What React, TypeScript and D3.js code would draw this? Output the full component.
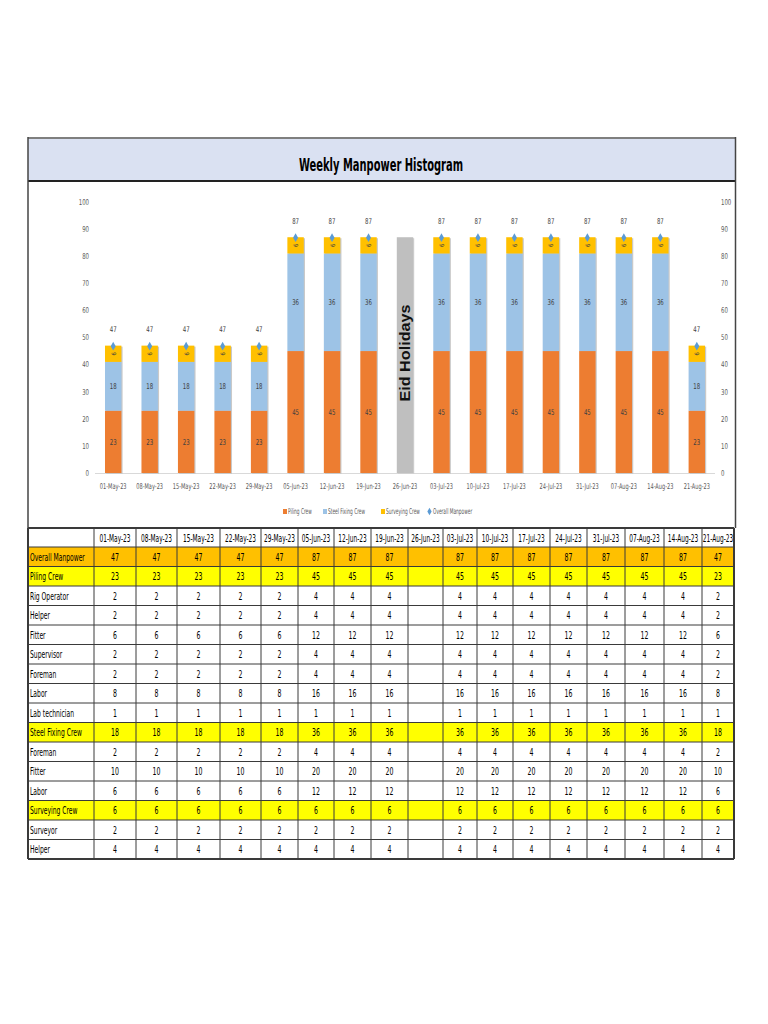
import React from 'react';
import * as d3 from 'd3';

const dates = ['01-May-23','08-May-23','15-May-23','22-May-23','29-May-23','05-Jun-23','12-Jun-23','19-Jun-23','26-Jun-23','03-Jul-23','10-Jul-23','17-Jul-23','24-Jul-23','31-Jul-23','07-Aug-23','14-Aug-23','21-Aug-23'];
const pilingCrew = [23,23,23,23,23,45,45,45,null,45,45,45,45,45,45,45,23];
const steelFixingCrew = [18,18,18,18,18,36,36,36,null,36,36,36,36,36,36,36,18];
const surveyingCrew = [6,6,6,6,6,6,6,6,null,6,6,6,6,6,6,6,6];
const overallManpower = [47,47,47,47,47,87,87,87,null,87,87,87,87,87,87,87,47];
const holidayDate = '26-Jun-23';
const holidayLabel = 'Eid Holidays';
const holidayBarValue = 87;

const rigOperator = [2,2,2,2,2,4,4,4,null,4,4,4,4,4,4,4,2];
const pilingHelper = [2,2,2,2,2,4,4,4,null,4,4,4,4,4,4,4,2];
const pilingFitter = [6,6,6,6,6,12,12,12,null,12,12,12,12,12,12,12,6];
const supervisor = [2,2,2,2,2,4,4,4,null,4,4,4,4,4,4,4,2];
const pilingForeman = [2,2,2,2,2,4,4,4,null,4,4,4,4,4,4,4,2];
const pilingLabor = [8,8,8,8,8,16,16,16,null,16,16,16,16,16,16,16,8];
const labTechnician = [1,1,1,1,1,1,1,1,null,1,1,1,1,1,1,1,1];
const steelForeman = [2,2,2,2,2,4,4,4,null,4,4,4,4,4,4,4,2];
const steelFitter = [10,10,10,10,10,20,20,20,null,20,20,20,20,20,20,20,10];
const steelLabor = [6,6,6,6,6,12,12,12,null,12,12,12,12,12,12,12,6];
const surveyor = [2,2,2,2,2,2,2,2,null,2,2,2,2,2,2,2,2];
const surveyHelper = [4,4,4,4,4,4,4,4,null,4,4,4,4,4,4,4,4];

const yTicks = [0,10,20,30,40,50,60,70,80,90,100];
const seriesNames = ['Piling Crew','Steel Fixing Crew','Surveying Crew','Overall Manpower'];
const title = 'Weekly Manpower Histogram';

const COLORS = { piling: '#ED7D31', steel: '#9DC3E6', survey: '#FFC000', overall: '#5B9BD5', holiday: '#BFBFBF' };
const NARROW = "'Liberation Sans Narrow', 'DejaVu Sans Condensed', 'Liberation Sans', sans-serif";

const tableRows = [
  { label: 'Overall Manpower', values: overallManpower, fill: '#FFC000' },
  { label: 'Piling Crew', values: pilingCrew, fill: '#FFFF00' },
  { label: 'Rig Operator', values: rigOperator, fill: '#FFFFFF' },
  { label: 'Helper', values: pilingHelper, fill: '#FFFFFF' },
  { label: 'Fitter', values: pilingFitter, fill: '#FFFFFF' },
  { label: 'Supervisor', values: supervisor, fill: '#FFFFFF' },
  { label: 'Foreman', values: pilingForeman, fill: '#FFFFFF' },
  { label: 'Labor', values: pilingLabor, fill: '#FFFFFF' },
  { label: 'Lab technician', values: labTechnician, fill: '#FFFFFF' },
  { label: 'Steel Fixing Crew', values: steelFixingCrew, fill: '#FFFF00' },
  { label: 'Foreman', values: steelForeman, fill: '#FFFFFF' },
  { label: 'Fitter', values: steelFitter, fill: '#FFFFFF' },
  { label: 'Labor', values: steelLabor, fill: '#FFFFFF' },
  { label: 'Surveying Crew', values: surveyingCrew, fill: '#FFFF00' },
  { label: 'Surveyor', values: surveyor, fill: '#FFFFFF' },
  { label: 'Helper', values: surveyHelper, fill: '#FFFFFF' },
];

// layout
const colEdges = [28, 94, 136, 177, 220, 261, 298, 334, 371, 408, 443, 477, 513, 550, 587, 625, 664, 702, 734];
const TABLE_TOP = 528;
const HEADER_H = 19;
const ROW_H = 19.5;

function T({ x, y, children, size = 10, anchor = 'middle', sx = 0.8, weight = 'normal', fill = '#000', rotate = 0, family = NARROW }: any) {
  return (
    <text transform={`translate(${x},${y}) rotate(${rotate}) scale(${sx},1)`} textAnchor={anchor}
      dominantBaseline="central" fontSize={size} fontWeight={weight} fill={fill} fontFamily={family}>
      {children}
    </text>
  );
}

export default function App() {
  const x = d3.scaleBand<string>().domain(dates).range([95, 715]).paddingInner(0.55).paddingOuter(0.274);
  const y = d3.scaleLinear().domain([0, 100]).range([473, 202]);
  const bw = x.bandwidth();

  const stacks = dates.map((d, i) => {
    const segs: any[] = [];
    let base = 0;
    const parts = [
      { v: pilingCrew[i], c: COLORS.piling, k: 'p' },
      { v: steelFixingCrew[i], c: COLORS.steel, k: 's' },
      { v: surveyingCrew[i], c: COLORS.survey, k: 'v' },
    ];
    parts.forEach((p) => {
      if (p.v == null) return;
      segs.push({ ...p, y0: base, y1: base + p.v });
      base += p.v;
    });
    return { d, i, segs };
  });

  const tableBottom = TABLE_TOP + HEADER_H + ROW_H * tableRows.length;

  return (
    <svg width={768} height={1024} style={{ position: 'absolute', left: 0, top: 0 }}>
      <rect x={0} y={0} width={768} height={1024} fill="#fff" />
      {/* title band */}
      <rect x={28} y={138} width={708} height={43} fill="#DAE1F2" />
      <line x1={28} x2={736} y1={138} y2={138} stroke="#7f7f7f" strokeWidth={2} />
      <line x1={28} x2={736} y1={181} y2={181} stroke="#222" strokeWidth={2} />
      <line x1={28} x2={28} y1={137} y2={528} stroke="#444" strokeWidth={1.5} />
      <line x1={735.5} x2={735.5} y1={137} y2={528} stroke="#444" strokeWidth={1.5} />
      <T x={381} y={165} size={17} weight="bold" sx={0.65}>{title}</T>

      {/* y axes labels */}
      {yTicks.map((t) => (
        <g key={t}>
          <T x={89} y={y(t)} size={8} anchor="end" sx={0.75} fill="#595959">{t}</T>
          <T x={721} y={y(t)} size={8} anchor="start" sx={0.75} fill="#595959">{t}</T>
        </g>
      ))}
      {/* x axis */}
      <line x1={95} x2={715} y1={y(0) + 0.5} y2={y(0) + 0.5} stroke="#d9d9d9" strokeWidth={1} />
      {dates.map((d) => (
        <T key={d} x={x(d)! + bw / 2} y={487} size={8} sx={0.7} fill="#595959">{d}</T>
      ))}

      {/* holiday bar */}
      <rect x={x(holidayDate)! + 1} y={y(holidayBarValue) + 1} width={bw} height={y(0) - y(holidayBarValue)} fill="#d0d0d0" />
      <rect x={x(holidayDate)!} y={y(holidayBarValue)} width={bw} height={y(0) - y(holidayBarValue)} fill={COLORS.holiday} />
      <T x={x(holidayDate)! + bw / 2} y={353} size={15} weight="bold" rotate={-90} sx={1.08}
        family="'Liberation Sans', Arial, sans-serif" fill="#111">{holidayLabel}</T>

      {/* stacked bars */}
      {stacks.map((s) => (
        <g key={s.d}>
          {s.segs.length > 0 && (
            <rect x={x(s.d)! + 1.2} y={y(s.segs[s.segs.length - 1].y1) + 1} width={bw} height={y(0) - y(s.segs[s.segs.length - 1].y1)} fill="#c9c9c9" />
          )}
          {s.segs.map((g: any) => (
            <rect key={g.k} x={x(s.d)!} y={y(g.y1)} width={bw} height={y(g.y0) - y(g.y1)} fill={g.c} />
          ))}
          {s.segs.map((g: any) => (
            g.k === 'v'
              ? <T key={'l' + g.k} x={x(s.d)! + bw / 2} y={y((g.y0 + g.y1) / 2)} size={6} rotate={-90} sx={1} fill="#404040">{g.v}</T>
              : <T key={'l' + g.k} x={x(s.d)! + bw / 2} y={y((g.y0 + g.y1) / 2)} size={8} sx={0.75} fill="#404040">{g.v}</T>
          ))}
        </g>
      ))}
      {/* overall manpower markers */}
      {dates.map((d, i) => overallManpower[i] == null ? null : (
        <g key={'o' + d}>
          <path d={d3.symbol().type(d3.symbolDiamond).size(22)()!} transform={`translate(${x(d)! + bw / 2},${y(overallManpower[i]!) + 0.5})`} fill={COLORS.overall} />
          <T x={x(d)! + bw / 2} y={y(overallManpower[i]!) - 16} size={8} sx={0.75} fill="#404040">{overallManpower[i]}</T>
        </g>
      ))}

      {/* legend */}
      {[
        { n: seriesNames[0], c: COLORS.piling, x: 283 },
        { n: seriesNames[1], c: COLORS.steel, x: 323 },
        { n: seriesNames[2], c: COLORS.survey, x: 381 },
      ].map((l) => (
        <g key={l.n}>
          <rect x={l.x} y={509} width={4} height={5} fill={l.c} />
          <T x={l.x + 5} y={511.5} size={8} anchor="start" sx={0.6} fill="#595959">{l.n}</T>
        </g>
      ))}
      <path d={d3.symbol().type(d3.symbolDiamond).size(16)()!} transform="translate(429.5,511.5)" fill={COLORS.overall} />
      <T x={433} y={511.5} size={8} anchor="start" sx={0.6} fill="#595959">{seriesNames[3]}</T>

      {/* table */}
      <rect x={28} y={TABLE_TOP} width={706} height={HEADER_H} fill="#fff" />
      {tableRows.map((r, ri) => (
        <rect key={'bg' + ri} x={28} y={TABLE_TOP + HEADER_H + ri * ROW_H} width={706} height={ROW_H} fill={r.fill} />
      ))}
      {dates.map((d, i) => (
        <T key={'h' + d} x={(colEdges[i + 1] + colEdges[i + 2]) / 2} y={TABLE_TOP + HEADER_H / 2 + 0.5} size={10.5} sx={0.62}>{d}</T>
      ))}
      {tableRows.map((r, ri) => {
        const cy = TABLE_TOP + HEADER_H + ri * ROW_H + ROW_H / 2 + 0.5;
        return (
          <g key={'r' + ri}>
            <T x={30} y={cy} size={10.5} anchor="start" sx={0.64}>{r.label}</T>
            {r.values.map((v, i) => v == null ? null : (
              <T key={i} x={(colEdges[i + 1] + colEdges[i + 2]) / 2} y={cy} size={10.5} sx={0.66}>{v}</T>
            ))}
          </g>
        );
      })}
      {/* grid */}
      {d3.range(tableRows.length + 2).map((k) => {
        const yy = k === 0 ? TABLE_TOP : TABLE_TOP + HEADER_H + (k - 1) * ROW_H;
        return <line key={'hl' + k} x1={28} x2={734} y1={yy} y2={yy} stroke="#3a3a3a" strokeWidth={k === 0 || k === tableRows.length + 1 ? 2 : 1} />;
      })}
      {colEdges.map((cx, k) => (
        <line key={'vl' + k} x1={cx} x2={cx} y1={TABLE_TOP} y2={tableBottom} stroke="#3a3a3a" strokeWidth={k === 0 || k === colEdges.length - 1 ? 2 : 1} />
      ))}
    </svg>
  );
}
